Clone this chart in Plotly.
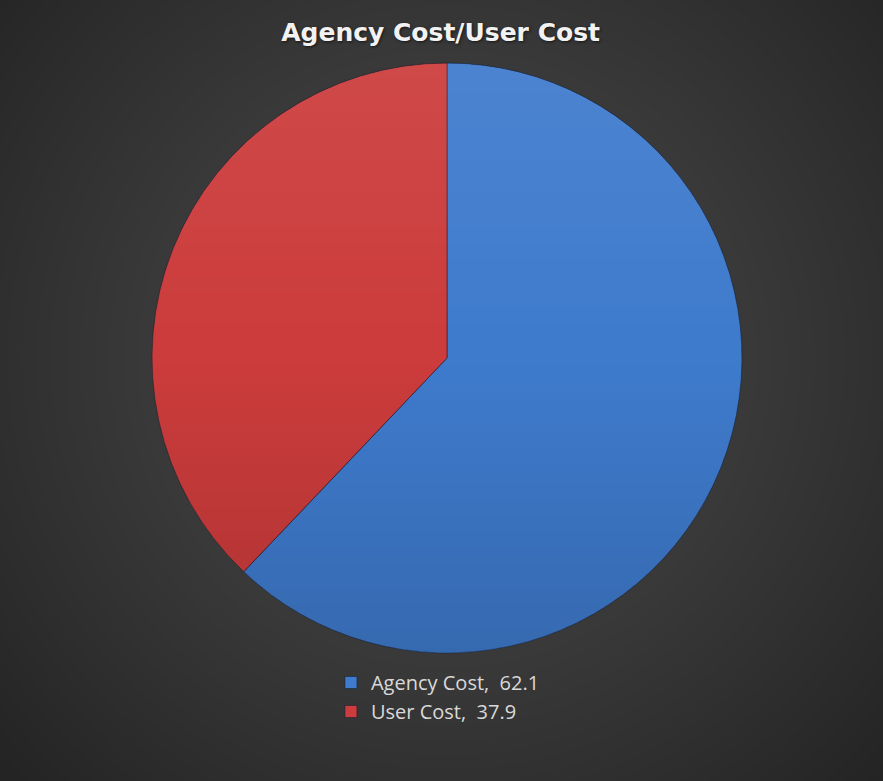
import base64
import struct
import zlib

import numpy as np
import plotly.graph_objects as go

# --- data -------------------------------------------------------------
categories = ["Agency Cost", "User Cost"]
values = [62.1, 37.9]
slice_colors = ["#3f7bcd", "#cc3c3c"]

W, H = 883, 781


def png_data_uri(rgba):
    """Encode an (h, w, 4) uint8 array as a base64 PNG data URI."""
    h, w, _ = rgba.shape
    raw = b"".join(b"\x00" + rgba[r].tobytes() for r in range(h))

    def chunk(tag, data):
        c = struct.pack(">I", len(data)) + tag + data
        return c + struct.pack(">I", zlib.crc32(tag + data) & 0xFFFFFFFF)

    png = b"\x89PNG\r\n\x1a\n"
    png += chunk(b"IHDR", struct.pack(">IIBBBBB", w, h, 8, 6, 0, 0, 0))
    png += chunk(b"IDAT", zlib.compress(raw, 9))
    png += chunk(b"IEND", b"")
    return "data:image/png;base64," + base64.b64encode(png).decode()


# pie placement (pixels)
cx, cy, R = 447, 358, 295

# dark radial backdrop, lighter toward the middle of the chart
yy, xx = np.mgrid[0:H, 0:W].astype(float)
d = np.hypot(xx - cx, yy - cy) / 580.0
g = np.clip(76 - 38 * d ** 1.1, 36, 90)
bg = np.zeros((H, W, 4), np.uint8)
bg[..., 0] = g
bg[..., 1] = g
bg[..., 2] = g
bg[..., 3] = 255

# vertical light-to-dark sheen laid over the pie disc
S = 2 * R
sy, sx = np.mgrid[0:S, 0:S].astype(float)
inside = np.hypot(sx - R + 0.5, sy - R + 0.5) <= R - 0.5
t = sy / (S - 1)
sheen = np.zeros((S, S, 4), np.uint8)
light = np.clip(0.5 - t, 0, None) * 2  # 1 at top -> 0 at middle
dark = np.clip(t - 0.5, 0, None) * 2   # 0 at middle -> 1 at bottom
alpha = 0.07 * light + 0.14 * dark
shade = np.where(t < 0.5, 255, 0)
sheen[..., 0] = shade
sheen[..., 1] = shade
sheen[..., 2] = shade
sheen[..., 3] = np.where(inside, alpha * 255, 0).astype(np.uint8)

dom_x = [(cx - R) / W, (cx + R) / W]
dom_y = [1 - (cy + R) / H, 1 - (cy - R) / H]

legend_labels = [f"{c},\u00a0\u00a0{v}" for c, v in zip(categories, values)]

fig = go.Figure(
    go.Pie(
        labels=legend_labels,
        values=values,
        sort=False,
        direction="clockwise",
        rotation=0,
        textinfo="none",
        hoverinfo="label+percent",
        marker=dict(colors=slice_colors,
                    line=dict(color="rgba(20,30,50,0.55)", width=1)),
        domain=dict(x=dom_x, y=dom_y),
    )
)

fig.update_layout(
    width=W,
    height=H,
    margin=dict(l=0, r=0, t=0, b=0),
    paper_bgcolor="#2a2a2a",
    title=dict(
        text="Agency Cost/User Cost",
        x=0.499,
        xanchor="center",
        y=1 - 32 / H,
        yanchor="middle",
        font=dict(family="DejaVu Sans", size=25, weight=700, color="#f2f2f2",
                  shadow="1px 1px 3px rgba(0,0,0,0.6)"),
    ),
    legend=dict(
        orientation="v",
        x=0.496,
        xanchor="center",
        y=1 - 663 / H,
        yanchor="top",
        itemwidth=30,
        font=dict(family="Open Sans", size=20, color="#d9d9d9"),
        bgcolor="rgba(0,0,0,0)",
    ),
    images=[
        dict(source=png_data_uri(bg), xref="paper", yref="paper",
             x=0, y=1, sizex=1, sizey=1, xanchor="left", yanchor="top",
             sizing="stretch", layer="below"),
        dict(source=png_data_uri(sheen), xref="paper", yref="paper",
             x=dom_x[0], y=dom_y[1], sizex=dom_x[1] - dom_x[0],
             sizey=dom_y[1] - dom_y[0], xanchor="left", yanchor="top",
             sizing="stretch", layer="above"),
    ],
)

fig.write_html("out.html")
